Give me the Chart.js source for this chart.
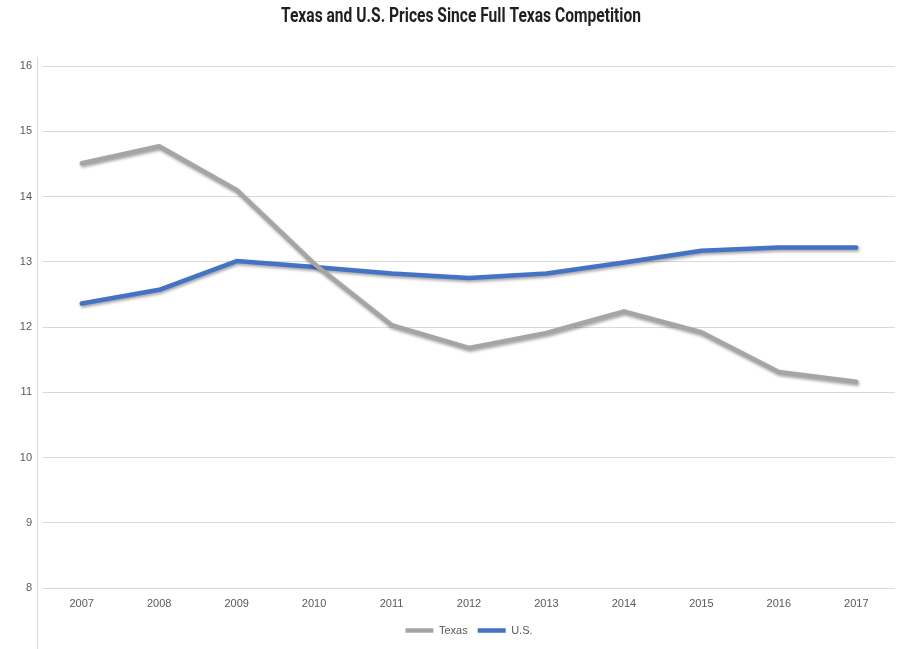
<!DOCTYPE html>
<html>
<head>
<meta charset="utf-8">
<script src="https://cdn.jsdelivr.net/npm/chart.js@4.4.1/dist/chart.umd.min.js"></script>
<style>
  html, body { margin: 0; padding: 0; background: #fff; }
  #wrap { width: 899px; height: 649px; }
</style>
</head>
<body>
<div id="wrap"><canvas id="priceChart" width="899" height="649"></canvas></div>
<script>
const years = ["2007", "2008", "2009", "2010", "2011", "2012", "2013", "2014", "2015", "2016", "2017"];
const texasPrices = [14.51, 14.77, 14.10, 12.97, 12.03, 11.68, 11.91, 12.24, 11.92, 11.31, 11.16];
const usPrices = [12.36, 12.57, 13.01, 12.92, 12.82, 12.75, 12.82, 12.99, 13.17, 13.22, 13.22];
const yTicks = [8, 9, 10, 11, 12, 13, 14, 15, 16];
const chartTitle = "Texas and U.S. Prices Since Full Texas Competition";

const labelColor = "#595959";
const gridColor = "#d9d9d9";
const tickFont = { family: "'Liberation Sans', 'Open Sans', sans-serif", size: 11 };

// soft drop shadow under the lines, like the office chart
const lineShadow = {
    id: "lineShadow",
    beforeDatasetDraw(chart) {
        const ctx = chart.ctx;
        ctx.save();
        ctx.shadowColor = "rgba(0,0,0,0.35)";
        ctx.shadowBlur = 3;
        ctx.shadowOffsetX = 1;
        ctx.shadowOffsetY = 2;
    },
    afterDatasetDraw(chart) {
        chart.ctx.restore();
    }
};

// frame line on the left edge + condensed bold title
const decorations = {
    id: "decorations",
    afterDraw(chart) {
        const ctx = chart.ctx;
        ctx.save();
        ctx.strokeStyle = gridColor;
        ctx.lineWidth = 1;
        ctx.beginPath();
        ctx.moveTo(37.5, 57);
        ctx.lineTo(37.5, 649);
        ctx.stroke();

        ctx.font = "bold 20px Roboto, 'Liberation Sans', sans-serif";
        ctx.fillStyle = "#1f1f1f";
        ctx.textAlign = "center";
        ctx.textBaseline = "alphabetic";
        const w = ctx.measureText(chartTitle).width;
        const sx = 360 / w;
        ctx.translate(461, 22);
        ctx.scale(sx, 1);
        ctx.fillText(chartTitle, 0, 0);
        ctx.restore();
    }
};

const ctx = document.getElementById("priceChart").getContext("2d");

new Chart(ctx, {
    type: "line",
    data: {
        labels: years,
        datasets: [
            {
                label: "Texas",
                data: texasPrices,
                borderColor: "#a5a5a5",
                backgroundColor: "#a5a5a5",
                borderWidth: 4.5,
                pointRadius: 0,
                tension: 0,
                borderCapStyle: "round",
                borderJoinStyle: "round"
            },
            {
                label: "U.S.",
                data: usPrices,
                borderColor: "#4472c4",
                backgroundColor: "#4472c4",
                borderWidth: 4.5,
                pointRadius: 0,
                tension: 0,
                borderCapStyle: "round",
                borderJoinStyle: "round"
            }
        ]
    },
    options: {
        responsive: false,
        animation: false,
        layout: {
            padding: { left: 0, right: 4, top: 66, bottom: 3 }
        },
        plugins: {
            title: { display: false },
            legend: {
                position: "bottom",
                fullSize: false,
                labels: {
                    color: labelColor,
                    font: tickFont,
                    usePointStyle: true,
                    pointStyle: "line",
                    pointStyleWidth: 28,
                    boxHeight: 4,
                    padding: 10
                }
            },
            tooltip: { enabled: false }
        },
        scales: {
            x: {
                offset: true,
                grid: { display: false, drawTicks: false },
                border: { display: false },
                afterFit(scale) {
                    scale.height = 27;
                },
                ticks: {
                    color: labelColor,
                    padding: 9,
                    maxRotation: 0,
                    font: tickFont
                }
            },
            y: {
                min: 8,
                max: 16,
                afterBuildTicks(scale) {
                    scale.ticks = yTicks.map(v => ({ value: v }));
                },
                afterFit(scale) {
                    scale.width = 43;
                },
                grid: { color: gridColor, lineWidth: 1, drawTicks: false },
                border: { display: false },
                ticks: {
                    color: labelColor,
                    padding: 11,
                    font: tickFont
                }
            }
        }
    },
    plugins: [lineShadow, decorations]
});
</script>
</body>
</html>
